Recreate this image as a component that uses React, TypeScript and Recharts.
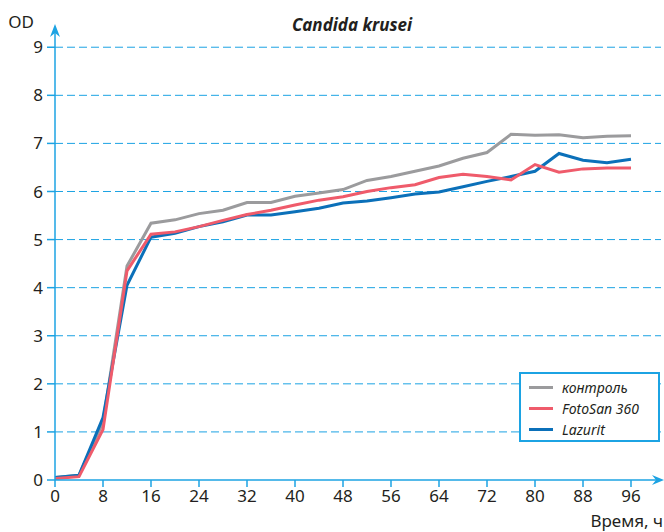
import React from "react";
import {
  LineChart,
  Line,
  XAxis,
  YAxis,
  ReferenceLine,
  Customized,
} from "recharts";

const hours = [0, 4, 8, 12, 16, 20, 24, 28, 32, 36, 40, 44, 48, 52, 56, 60, 64, 68, 72, 76, 80, 84, 88, 92, 96];
const control = [0.05, 0.1, 1.2, 4.45, 5.34, 5.41, 5.54, 5.61, 5.77, 5.77, 5.9, 5.97, 6.04, 6.23, 6.31, 6.42, 6.53, 6.69, 6.81, 7.19, 7.17, 7.18, 7.12, 7.15, 7.16];
const fotosan = [0.03, 0.07, 1.05, 4.35, 5.11, 5.16, 5.27, 5.4, 5.52, 5.61, 5.72, 5.82, 5.89, 6.0, 6.08, 6.14, 6.29, 6.36, 6.31, 6.24, 6.56, 6.4, 6.47, 6.49, 6.49];
const lazurit = [0.05, 0.1, 1.3, 4.05, 5.05, 5.13, 5.27, 5.37, 5.51, 5.51, 5.58, 5.65, 5.76, 5.8, 5.87, 5.95, 5.99, 6.1, 6.21, 6.31, 6.42, 6.79, 6.65, 6.6, 6.67];

const xTicks = [0, 8, 16, 24, 32, 40, 48, 56, 64, 72, 80, 88, 96];
const yTicks = [0, 1, 2, 3, 4, 5, 6, 7, 8, 9];

const series = [
  { key: "control", name: "контроль", color: "#9b9b9d" },
  { key: "lazurit", name: "Lazurit", color: "#0b70b9" },
  { key: "fotosan", name: "FotoSan 360", color: "#ef5b6b" },
];
const legendOrder = ["control", "fotosan", "lazurit"];

const data = hours.map((h, i) => ({
  h,
  control: control[i],
  fotosan: fotosan[i],
  lazurit: lazurit[i],
}));

const W = 664;
const H = 532;
const AXIS = "#1ca3e3";
const FONT = "'Noto Sans', sans-serif";
const TEXT = "#231f20";

const Decor = () => (
  <g>
    <path d="M50,37 L55,24 L60,37 L55,33 Z" fill={AXIS} />
    <path d="M652,475 L664,480 L652,485 L656,480 Z" fill={AXIS} />
    <text x={34} y={28} textAnchor="end" fontSize={17} fill={TEXT} fontFamily={FONT}>OD</text>
    <text x={352} y={31} textAnchor="middle" fontSize={17} fontWeight={700} fontStyle="italic" fill={TEXT} fontFamily={FONT}>
      Candida krusei
    </text>
    <text x={663} y={527} textAnchor="end" fontSize={17} fill={TEXT} fontFamily={FONT}>Время, ч</text>
  </g>
);

export default function App() {
  return (
    <div style={{ position: "absolute", left: 0, top: 0, width: W, height: H, background: "#fff" }}>
      <LineChart
        width={W}
        height={H}
        data={data}
        margin={{ top: 28, right: 3, left: 0, bottom: 0 }}
      >
        <XAxis
          dataKey="h"
          type="number"
          domain={[0, 101]}
          ticks={xTicks}
          allowDataOverflow
          axisLine={{ stroke: AXIS, strokeWidth: 1.5 }}
          tickLine={{ stroke: AXIS, strokeWidth: 1.5 }}
          tickSize={7}
          tickMargin={3}
          height={52}
          tick={{ fill: TEXT, fontSize: 17, fontFamily: FONT }}
        />
        <YAxis
          type="number"
          domain={[0, 9.4]}
          ticks={yTicks}
          allowDataOverflow
          width={55}
          axisLine={{ stroke: AXIS, strokeWidth: 1.5 }}
          tickLine={{ stroke: AXIS, strokeWidth: 1.5 }}
          tickSize={8}
          tickMargin={4}
          tick={{ fill: TEXT, fontSize: 17, fontFamily: FONT }}
        />
        {yTicks.filter((v) => v > 0).map((v) => (
          <ReferenceLine
            key={v}
            y={v}
            stroke={AXIS}
            strokeWidth={1}
            strokeDasharray="8 4"
          />
        ))}
        {series.map((s) => (
          <Line
            key={s.key}
            dataKey={s.key}
            name={s.name}
            stroke={s.color}
            strokeWidth={3}
            dot={false}
            activeDot={false}
            type="linear"
            isAnimationActive={false}
          />
        ))}
        <Customized component={Decor} />
      </LineChart>
      <div
        style={{
          position: "absolute",
          left: 519,
          top: 372,
          width: 141,
          height: 70,
          border: `2px solid ${AXIS}`,
          background: "#fff",
          padding: "3px 0 0 8px",
          boxSizing: "border-box",
          fontFamily: FONT,
          fontStyle: "italic",
          fontSize: 14,
          color: TEXT,
          lineHeight: "21px",
        }}
      >
        {legendOrder.map((k) => {
          const s = series.find((x) => x.key === k)!;
          return (
            <div key={k} style={{ display: "flex", alignItems: "center", height: 21 }}>
              <span style={{ display: "inline-block", width: 24, height: 3, background: s.color, marginRight: 9 }} />
              <span>{s.name}</span>
            </div>
          );
        })}
      </div>
    </div>
  );
}
